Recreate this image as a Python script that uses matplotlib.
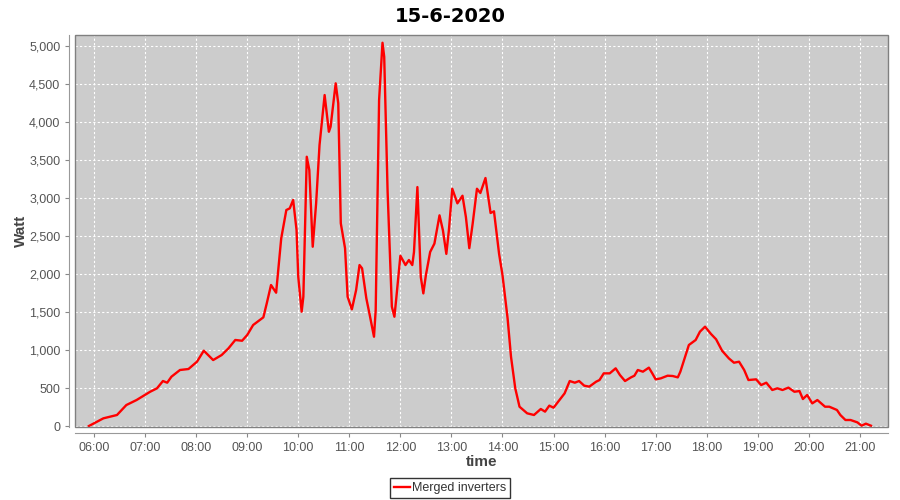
import pandas as pd
import matplotlib
matplotlib.use("Agg")
import matplotlib.pyplot as plt
import matplotlib.dates as mdates
import matplotlib.ticker as mticker
from matplotlib.patches import Rectangle

title = "15-6-2020"
series_name = "Merged inverters"

times = ["05:54", "06:11", "06:27", "06:38", "06:50", "07:06", "07:14", "07:21", "07:26", "07:31",
         "07:41", "07:51", "08:01", "08:09", "08:20", "08:30", "08:38", "08:46", "08:54", "09:00",
         "09:07", "09:19", "09:23", "09:28", "09:34", "09:40", "09:46", "09:50", "09:54", "09:58",
         "10:00", "10:04", "10:06", "10:10", "10:13", "10:17", "10:21", "10:25", "10:31", "10:36",
         "10:38", "10:44", "10:47", "10:50", "10:55", "10:58", "11:03", "11:08", "11:12", "11:15",
         "11:20", "11:24", "11:29", "11:31", "11:35", "11:39", "11:41", "11:45", "11:50", "11:53",
         "11:55", "12:00", "12:06", "12:10", "12:14", "12:16", "12:20", "12:24", "12:27", "12:30",
         "12:35", "12:40", "12:46", "12:50", "12:54", "12:57", "13:01", "13:07", "13:13", "13:17",
         "13:21", "13:25", "13:30", "13:34", "13:40", "13:46", "13:50", "13:56", "14:00", "14:06",
         "14:10", "14:15", "14:20", "14:29", "14:37", "14:45", "14:50", "14:55", "15:00", "15:07",
         "15:13", "15:19", "15:25", "15:30", "15:36", "15:42", "15:50", "15:54", "15:59", "16:06",
         "16:13", "16:18", "16:24", "16:31", "16:35", "16:39", "16:45", "16:52", "16:56", "17:00",
         "17:06", "17:14", "17:20", "17:26", "17:29", "17:34", "17:39", "17:47", "17:52", "17:58",
         "18:05", "18:11", "18:18", "18:26", "18:32", "18:38", "18:44", "18:49", "18:58", "19:04",
         "19:10", "19:17", "19:23", "19:29", "19:36", "19:43", "19:49", "19:53", "19:58", "20:04",
         "20:10", "20:19", "20:24", "20:33", "20:37", "20:43", "20:49", "20:57", "21:02", "21:07",
         "21:13"]

watts = [0, 101, 145, 276, 342, 451, 496, 592, 570, 649,
         737, 750, 846, 991, 868, 934, 1022, 1132, 1122, 1197,
         1329, 1430, 1614, 1855, 1754, 2470, 2842, 2864, 2974, 2579,
         1964, 1504, 1701, 3543, 3368, 2359, 2930, 3697, 4355, 3872,
         3938, 4509, 4246, 2667, 2338, 1701, 1535, 1789, 2118, 2075,
         1680, 1460, 1175, 1526, 4289, 5043, 4859, 3083, 1570, 1438,
         1658, 2240, 2118, 2184, 2118, 2290, 3144, 1960, 1745, 1986,
         2290, 2400, 2772, 2575, 2265, 2575, 3122, 2930, 3030, 2750,
         2340, 2667, 3122, 3066, 3263, 2803, 2825, 2265, 1986, 1416,
         912, 496, 254, 167, 145, 224, 189, 268, 241, 342,
         430, 592, 570, 592, 531, 518, 583, 605, 693, 693,
         759, 671, 592, 640, 662, 737, 715, 768, 693, 614,
         627, 662, 658, 640, 715, 890, 1066, 1132, 1241, 1307,
         1211, 1141, 991, 890, 833, 846, 737, 605, 614, 539,
         570, 474, 496, 474, 505, 451, 460, 355, 408, 298,
         342, 254, 254, 211, 145, 79, 79, 48, 4, 31,
         4]

day = "2020-06-15 "
t = pd.to_datetime([day + s for s in times])

plt.rcParams['font.family'] = ['Liberation Sans', 'DejaVu Sans']

fig = plt.figure(figsize=(9, 5), dpi=100)
ax = fig.add_axes([75 / 900, 1 - 427 / 500, 813 / 900, 392 / 500])
ax.set_facecolor("#cccccc")

ax.plot(t, watts, color="red", linewidth=1.7, label=series_name, solid_joinstyle="round")

ax.set_xlim(pd.Timestamp(day + "05:37:40"), pd.Timestamp(day + "21:33:00"))
ax.set_ylim(-13, 5145)
ax.xaxis.set_major_locator(mdates.HourLocator())
ax.xaxis.set_major_formatter(mdates.DateFormatter("%H:%M"))
ax.yaxis.set_major_locator(mticker.MultipleLocator(500))
ax.yaxis.set_major_formatter(mticker.FuncFormatter(lambda v, p: f"{int(v):,}"))

ax.grid(True, color="white", linestyle=(0, (2, 2)), linewidth=0.8)
ax.tick_params(colors="#888888", labelcolor="#555555", labelsize=9, length=3, width=0.8)

for side in ["top", "right"]:
    ax.spines[side].set_visible(False)
for side in ["left", "bottom"]:
    ax.spines[side].set_position(("outward", 4))
    ax.spines[side].set_color("#999999")
ax.add_patch(Rectangle((0, 0), 1, 1, transform=ax.transAxes, fill=False,
                       edgecolor="#808080", linewidth=1, clip_on=False, zorder=5))

ax.set_xlabel("time", fontsize=11, fontweight="bold", color="#444444", labelpad=1)
ax.set_ylabel("Watt", fontsize=11, fontweight="bold", color="#444444", labelpad=1)
fig.suptitle(title, x=0.5, y=0.985, fontsize=14, fontweight="bold", family="DejaVu Sans")

leg = fig.legend(loc="center", bbox_to_anchor=(0.5, 1 - 488 / 500), fontsize=9,
                 frameon=True, fancybox=False, edgecolor="black", handlelength=1.3,
                 handletextpad=0.2, borderpad=0.3)
leg.get_frame().set_linewidth(1)
for txt in leg.get_texts():
    txt.set_color("#333333")

fig.savefig("out.png", dpi=100)
